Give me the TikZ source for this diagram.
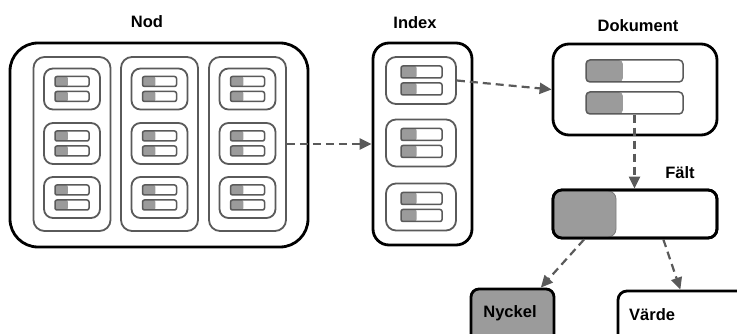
\documentclass[tikz,border=0pt]{standalone}
\usepackage{fontspec}
\setmainfont{Liberation Sans}
\usetikzlibrary{arrows.meta,calc}
\definecolor{keygray}{HTML}{9B9B9B}
\definecolor{linegray}{HTML}{5A5A5A}
\tikzset{
  outerbox/.style={draw=black, line width=2.8pt, fill=white, rounded corners=#1, inner sep=0pt},
  innerbox/.style={draw=linegray, line width=1.8pt, fill=white, rounded corners=#1, inner sep=0pt},
  barbox/.style={draw=linegray, line width=1.5pt, fill=white, rounded corners=2pt, inner sep=0pt,
    path picture={\fill[keygray] (path picture bounding box.north west) rectangle ($(path picture bounding box.south west)!0.38!(path picture bounding box.south east)$);}},
  lbl/.style={font=\bfseries\fontsize{16.5}{18}\selectfont, inner sep=0pt},
  conn/.style={draw=linegray, line width=2.2pt, dash pattern=on 8pt off 5pt, -{Triangle[length=12pt,width=11pt]}},
}
\begin{document}
\begin{tikzpicture}[x=1pt,y=-1pt]
\useasboundingbox (0,0) rectangle (737,334);
\clip (0,0) rectangle (737,334);
% Nod
\node[outerbox=28pt, minimum width=298pt, minimum height=204pt] (nod) at (159,145) {};
\node[lbl] (nodlbl) at (147,22) {Nod};
\foreach \c/\cx in {1/72,2/159.5,3/247.5}{
  \node[innerbox=11pt, minimum width=77pt, minimum height=174pt] (col\c) at (\cx,144) {};
  \foreach \r/\ry in {1/89,2/143.5,3/197.5}{
    \node[innerbox=9pt, minimum width=56pt, minimum height=41pt] (nb\c\r) at (\cx,\ry) {};
    \node[barbox, minimum width=34pt, minimum height=10pt] (nba\c\r) at (\cx,\ry-7.5) {};
    \node[barbox, minimum width=34pt, minimum height=10pt] (nbb\c\r) at (\cx,\ry+7.5) {};
  }
}
% Index
\node[outerbox=16pt, minimum width=99pt, minimum height=202pt] (index) at (422.5,144) {};
\node[lbl] (indexlbl) at (415,23) {Index};
\foreach \r/\ry in {1/80.5,2/143,3/207}{
  \node[innerbox=10pt, minimum width=70pt, minimum height=47pt] (ib\r) at (421,\ry) {};
  \node[barbox, minimum width=41pt, minimum height=12pt] (iba\r) at (421.5,\ry-8.5) {};
  \node[barbox, minimum width=41pt, minimum height=12pt] (ibb\r) at (421.5,\ry+8.5) {};
}
% Dokument
\node[outerbox=16pt, minimum width=164pt, minimum height=91pt] (dok) at (635,89.5) {};
\node[lbl] (doklbl) at (638,26) {Dokument};
\node[barbox, minimum width=97pt, minimum height=22pt, rounded corners=4pt] (dba) at (634.5,71) {};
\node[barbox, minimum width=97pt, minimum height=22pt, rounded corners=4pt] (dbb) at (634.5,103) {};
% Falt
\node[lbl] (faltlbl) at (680,173) {Fält};
\node[outerbox=9pt, minimum width=164pt, minimum height=48pt] (falt) at (635,214) {};
\node[draw=keygray!80!black, line width=0.8pt, fill=keygray, rounded corners=8pt, inner sep=0pt,
      minimum width=62pt, minimum height=46pt] (faltkey) at (585,214) {};
\draw[draw=black, line width=2.8pt, rounded corners=9pt] (553,190) rectangle (717,238);
% Nyckel, Varde
\node[outerbox=8pt, fill=keygray, minimum width=83pt, minimum height=60pt] (nyckel) at (512.5,319) {};
\node[lbl] (nyckellbl) at (510,313) {Nyckel};
\node[outerbox=9pt, minimum width=130pt, minimum height=60pt] (varde) at (683,321) {};
\node[lbl, anchor=west] (vardelbl) at (629,315) {Värde};
% connectors
\draw[conn] (col3.east) -- (index.west);
\draw[conn] (ib1.east) -- (dok.west);
\draw[conn] (dbb.south) -- (dbb.south |- falt.north);
\draw[conn] ($(falt.south west)!0.195!(falt.south east)$) -- ($(nyckel.north west)!0.83!(nyckel.north east)$);
\draw[conn] ($(falt.south west)!0.67!(falt.south east)$) -- ($(varde.north west)!0.48!(varde.north east)$);
\end{tikzpicture}
\end{document}
